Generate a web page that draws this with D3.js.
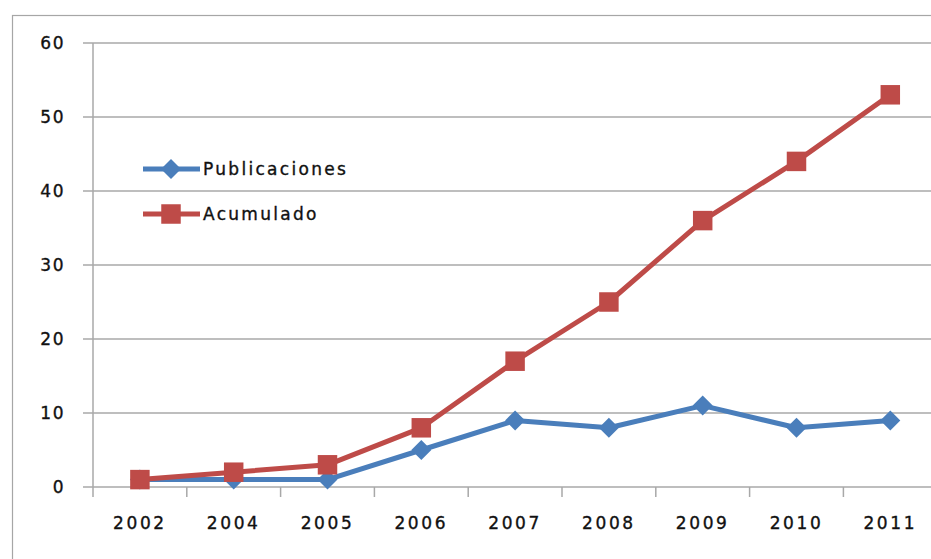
<!DOCTYPE html>
<html><head><meta charset="utf-8">
<script src="https://cdn.jsdelivr.net/npm/d3@7"></script>
<style>html,body{margin:0;padding:0;background:#fff;overflow:hidden}
text{stroke:#111;stroke-width:0.35px}</style>
</head><body>
<svg id="c" width="931" height="559"></svg>
<script>
const years = ["2002","2004","2005","2006","2007","2008","2009","2010","2011"];
const publicaciones = [1,1,1,5,9,8,11,8,9];
const acumulado = [1,2,3,8,17,25,36,44,53];
const yTicks = [0,10,20,30,40,50,60];

const svg = d3.select("#c");
const plotLeft = 93, plotBottom = 487, plotTop = 43, band = 93.8;
const x = d3.scaleBand().domain(years).range([plotLeft, plotLeft + band*years.length]).padding(0);
const y = d3.scaleLinear().domain([0,60]).range([plotBottom, plotTop]);
const font = "'DejaVu Sans', Verdana, sans-serif";

// outer frame
svg.append("rect").attr("x",12.5).attr("y",15.5).attr("width",960).attr("height",600)
  .attr("fill","none").attr("stroke","#a6a6a6").attr("stroke-width",1.2);

// gridlines
svg.append("g").selectAll("line").data(yTicks).join("line")
  .attr("x1",83).attr("x2",945).attr("y1",d=>y(d)).attr("y2",d=>y(d))
  .attr("stroke","#a8a8a8").attr("stroke-width",1.5);

// y axis line
svg.append("line").attr("x1",plotLeft).attr("x2",plotLeft).attr("y1",plotTop).attr("y2",plotBottom)
  .attr("stroke","#a8a8a8").attr("stroke-width",1.5);

// y labels
svg.append("g").selectAll("text").data(yTicks).join("text")
  .attr("x",65).attr("y",d=>y(d)).attr("dy","0.36em").attr("text-anchor","end")
  .attr("font-family",font).attr("font-size",17).attr("letter-spacing",1.5).attr("fill","#111")
  .text(d=>d);

// x ticks at band boundaries
const bounds = years.map(d=>x(d)).concat([x(years[years.length-1])+band]);
svg.append("g").selectAll("line").data(bounds).join("line")
  .attr("x1",d=>d).attr("x2",d=>d).attr("y1",plotBottom).attr("y2",plotBottom+10)
  .attr("stroke","#a8a8a8").attr("stroke-width",1.5);

// x labels
svg.append("g").selectAll("text").data(years).join("text")
  .attr("x",d=>x(d)+band/2).attr("y",523).attr("dy","0.36em").attr("text-anchor","middle")
  .attr("font-family",font).attr("font-size",17).attr("letter-spacing",2.6).attr("fill","#111")
  .text(d=>d);

const blue = "#4A7EBB", red = "#BE4B48";
const cx = (d,i)=>x(years[i])+band/2;
const line = d3.line().x((d,i)=>cx(d,i)).y(d=>y(d));
const squareSym = d3.symbol().type(d3.symbolSquare).size(380);
const diamondSym = d3.symbol().type(d3.symbolSquare).size(200);

function drawSeries(vals,color,shape){
  svg.append("path").datum(vals).attr("d",line).attr("fill","none")
    .attr("stroke",color).attr("stroke-width",5).attr("stroke-linejoin","round");
  svg.append("g").selectAll("path").data(vals).join("path")
    .attr("transform",(d,i)=>`translate(${cx(d,i)},${y(d)})` + (shape==="sq"?"":" rotate(45)"))
    .attr("d",shape==="sq"?squareSym:diamondSym).attr("fill",color);
}
drawSeries(publicaciones,blue,"dia");
drawSeries(acumulado,red,"sq");

// legend
const legend = [{name:"Publicaciones",color:blue,shape:"dia",y:169},{name:"Acumulado",color:red,shape:"sq",y:214}];
const lg = svg.append("g");
legend.forEach(l=>{
  lg.append("line").attr("x1",143).attr("x2",200).attr("y1",l.y).attr("y2",l.y)
    .attr("stroke",l.color).attr("stroke-width",5);
  lg.append("path").attr("transform",`translate(171,${l.y})` + (l.shape==="sq"?"":" rotate(45)"))
    .attr("d",l.shape==="sq"?squareSym:diamondSym)
    .attr("fill",l.color);
  lg.append("text").attr("x",203).attr("y",l.y).attr("dy","0.36em")
    .attr("font-family",font).attr("font-size",17).attr("letter-spacing",2.3).attr("fill","#111")
    .text(l.name);
});
</script>
</body></html>
